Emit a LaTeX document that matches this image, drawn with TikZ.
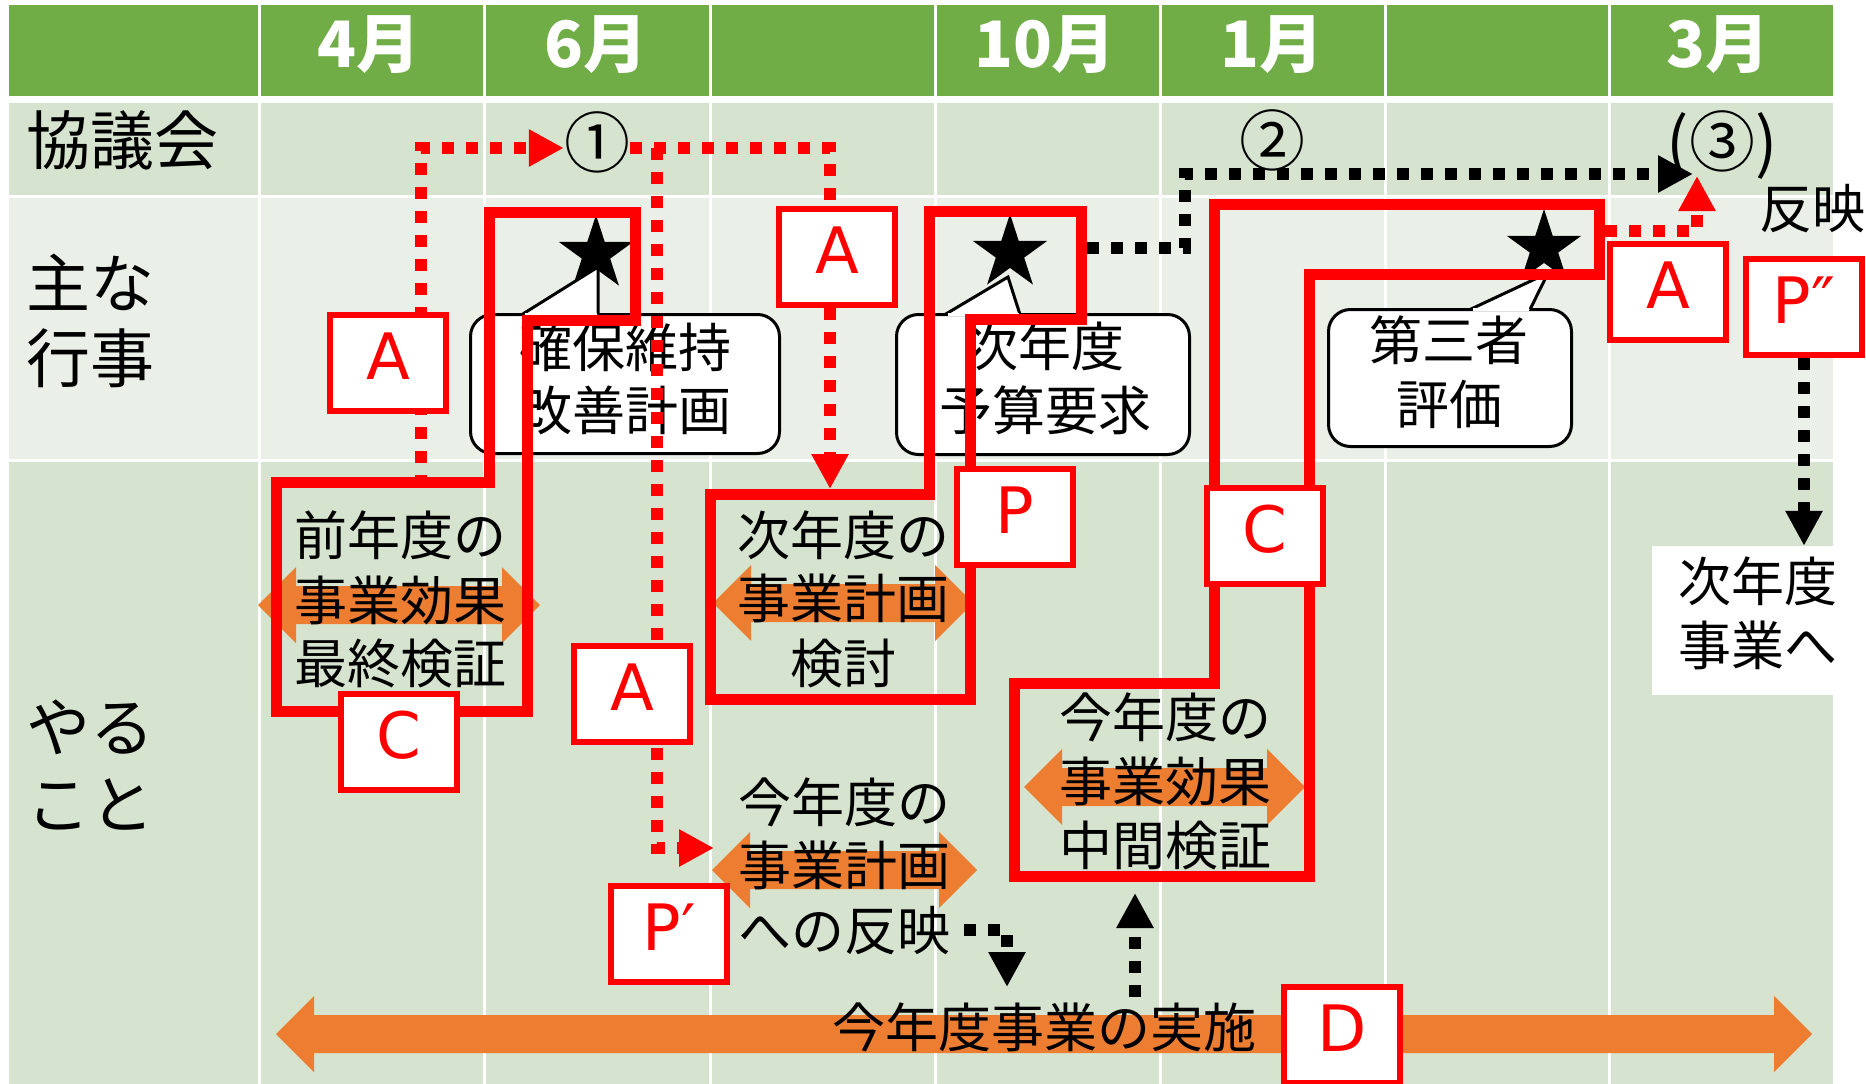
\documentclass[tikz,border=0pt]{standalone}
\usepackage{fontspec}
\setmainfont{Noto Sans CJK JP}
\newfontfamily\latf{DejaVu Sans}
\usetikzlibrary{arrows.meta,shapes.geometric}
\pgfdeclarelayer{bglayer}
\pgfdeclarelayer{midlayer}
\pgfsetlayers{bglayer,midlayer,main}
\definecolor{hdrg}{HTML}{70AD47}
\definecolor{rowa}{HTML}{D5E3CF}
\definecolor{rowb}{HTML}{EAF0E8}
\definecolor{orng}{HTML}{ED7D31}
\definecolor{pred}{HTML}{FF0000}
\newcommand{\orgarrow}[3]{\fill[orng] (#1,#3) -- (#1+38,#3-38) -- (#1+38,#3-19) -- (#2-38,#3-19) -- (#2-38,#3-38) -- (#2,#3) -- (#2-38,#3+38) -- (#2-38,#3+19) -- (#1+38,#3+19) -- (#1+38,#3+38) -- cycle;}
\begin{document}
\begin{tikzpicture}[x=1pt,y=-1pt,
  hdrtxt/.style={text=white, font=\fontsize{64}{64}\selectfont\bfseries, inner sep=0, anchor=center},
  rowlbl/.style={font=\fontsize{64}{64}\selectfont, inner sep=0, anchor=west},
  btxt/.style={font=\fontsize{53}{53}\selectfont, inner sep=0, anchor=center},
  numtxt/.style={font=\fontsize{66}{66}\selectfont, inner sep=0, anchor=center},
  lbox/.style={draw=pred, line width=6pt, fill=white, minimum width=116pt, minimum height=96pt, inner sep=0, text=pred, text height=47pt, text depth=14pt, font=\latf\fontsize{64}{64}\selectfont},
  pdca/.style={draw=pred, line width=11pt, line join=miter},
  reddot/.style={draw=pred, line width=11.5pt, dash pattern=on 12pt off 12pt},
  blkdot/.style={draw=black, line width=11.5pt, dash pattern=on 12pt off 12pt},
  tip/.style={-{Triangle[length=35pt,width=35pt]}},
  callout/.style={draw=black, line width=3pt, fill=white, rounded corners=22pt, inner sep=0},
  starn/.style={star, star points=5, star point ratio=2.618, fill=black, inner sep=0, minimum size=78pt}]
\useasboundingbox (0,0) rectangle (1866,1084);

% ---------- letter boxes (top layer) ----------
\node[lbox] (a1) at (388,363) {A};
\node[lbox] (a2) at (837,257) {A};
\node[lbox] (a3) at (632,694) {A};
\node[lbox] (a4) at (1668,292) {A};
\node[lbox] (pp) at (1804,307) {P″};
\node[lbox] (cc1) at (399,742) {C};
\node[lbox] (pb) at (1015,517) {P};
\node[lbox] (cc2) at (1265,536) {C};
\node[lbox] (p1) at (669,934) {P′};
\node[lbox] (db) at (1342,1035) {D};
\node[fill=white, minimum width=181pt, minimum height=149pt, inner sep=0] (nx) at (1742.5,620.5) {};
\node[btxt] (nx1) at (1758,581) {次年度};
\node[btxt] (nx2) at (1758,645) {事業へ};

\begin{pgfonlayer}{bglayer}
\fill[white] (0,0) rectangle (1866,1084);
\fill[hdrg] (9,5) rectangle (1833,96);
\fill[rowa] (9,103) rectangle (1833,195);
\fill[rowb] (9,198) rectangle (1833,459);
\fill[rowa] (9,462) rectangle (1833,1084);
\foreach \cx in {259,484,710,935,1160,1385,1609} \draw[white,line width=3pt] (\cx,5) -- (\cx,1084);

% header
\node[hdrtxt] (h4) at (369,45) {4月};
\node[hdrtxt] (h6) at (596,45) {6月};
\node[hdrtxt] (h10) at (1045,45) {10月};
\node[hdrtxt] (h1) at (1272,45) {1月};
\node[hdrtxt] (h3) at (1718,45) {3月};

% row labels
\node[rowlbl] (r1) at (26,140) {協議会};
\node[rowlbl] (r2a) at (26,282) {主な};
\node[rowlbl] (r2b) at (26,358) {行事};
\node[rowlbl] (r3a) at (26,727) {やる};
\node[rowlbl] (r3b) at (26,804) {こと};

% orange arrows
\orgarrow{258}{540}{605}
\orgarrow{713}{973}{603}
\orgarrow{712}{977}{870}
\orgarrow{1024}{1305}{787}
\orgarrow{276}{1812}{1034}

% stars
\node[starn] (st1) at (596,254) {};
\node[starn] (st2) at (1010,253) {};
\node[starn] (st3) at (1544,248) {};

% callouts
\node[callout, minimum width=309pt, minimum height=139pt] (cb1) at (625,384) {};
\fill[white] (522,314.5) -- (598,267) -- (598,314.5) -- cycle;
\draw[line width=3pt] (522,314.5) -- (598,267) -- (598,314.5);
\draw[white,line width=3.4pt] (524.5,314.5) -- (596.5,314.5);

\node[callout, minimum width=293pt, minimum height=140pt] (cb2) at (1043,384.5) {};
\fill[white] (945,314.5) -- (1008,277) -- (1020,314.5) -- cycle;
\draw[line width=3pt] (945,314.5) -- (1008,277) -- (1020,314.5);
\draw[white,line width=3.4pt] (947.5,314.5) -- (1019,314.5);

\node[callout, minimum width=243pt, minimum height=137pt] (cb3) at (1450,378) {};
\fill[white] (1470,309.5) -- (1548,273) -- (1530,309.5) -- cycle;
\draw[line width=3pt] (1470,309.5) -- (1548,273) -- (1530,309.5);
\draw[white,line width=3.4pt] (1472.5,309.5) -- (1529,309.5);

% texts
\node[btxt] (k1a) at (625,347) {確保維持};
\node[btxt] (k1b) at (625,410) {改善計画};
\node[btxt] (k2a) at (1045,346) {次年度};
\node[btxt] (k2b) at (1045,410) {予算要求};
\node[btxt] (k3a) at (1449,340) {第三者};
\node[btxt] (k3b) at (1449,404) {評価};

\node[btxt] (t1a) at (400,535) {前年度の};
\node[btxt] (t1b) at (400,600) {事業効果};
\node[btxt] (t1c) at (400,663) {最終検証};
\node[btxt] (t2a) at (843,535) {次年度の};
\node[btxt] (t2b) at (843,598) {事業計画};
\node[btxt] (t2c) at (843,663) {検討};
\node[btxt] (t3a) at (844,802) {今年度の};
\node[btxt] (t3b) at (844,865) {事業計画};
\node[btxt] (t3c) at (844,931) {への反映};
\node[btxt] (t4a) at (1165,717) {今年度の};
\node[btxt] (t4b) at (1165,781) {事業効果};
\node[btxt] (t4c) at (1165,845) {中間検証};
\node[btxt] (big) at (1044,1027) {今年度事業の実施};
\node[btxt] (hanei) at (1812,209) {反映};

\node[numtxt] (c1) at (597,142) {①};
\node[numtxt] (c2) at (1272,140) {②};
\node[numtxt] (c3) at (1722,145) {(③)};

% PDCA red shapes
\draw[pdca] (276,482) -- (489,482) -- (489,212) -- (635,212) -- (635,320) -- (527,320) -- (527,711) -- (276,711) -- cycle;
\draw[pdca] (710,494) -- (929,494) -- (929,211) -- (1081,211) -- (1081,319) -- (970,319) -- (970,699) -- (710,699) -- cycle;
\draw[pdca] (1014,683) -- (1214,683) -- (1214,204) -- (1599,204) -- (1599,274) -- (1309,274) -- (1309,876) -- (1014,876) -- cycle;
\end{pgfonlayer}

% ---------- dotted connectors ----------
\begin{pgfonlayer}{midlayer}
\coordinate (yl) at (0,148);
\coordinate (d1s) at (421,487);
\coordinate (d2c) at (830,148);
\coordinate (s2top) at (0,489);
\coordinate (d4s) at (657,148);
\coordinate (d4c) at (657,848);
\coordinate (d4e) at (714,848);
\coordinate (d5s) at (1605,231);
\coordinate (d5e) at (1697,176);
\coordinate (d6s) at (1087,248);
\coordinate (d6c) at (1185,248);
\coordinate (d6e) at (1693,174);
\coordinate (d8s) at (964,930);
\coordinate (d8e) at (1007,987);
\coordinate (d9s) at (1135,997);
\coordinate (d9e) at (1135,893);
\draw[reddot,tip] (d1s) |- (c1.west |- yl);
\draw[reddot] (c1.east |- yl) -- (d2c) -- (d2c |- a2.north);
\draw[reddot,tip] (d2c |- a2.south) -- (d2c |- s2top);
\draw[reddot,tip] (d4s) -- (d4c) -- (d4e);
\draw[reddot,tip] (d5s) -| (d5e);
\draw[blkdot,tip] (d6s) -- (d6c) |- (d6e);
\draw[blkdot,tip] (pp.south) -- (pp.south |- nx.north);
\draw[blkdot,tip] (d8s) -| (d8e);
\draw[blkdot,tip] (d9s) -- (d9e);
\end{pgfonlayer}
\end{tikzpicture}
\end{document}
